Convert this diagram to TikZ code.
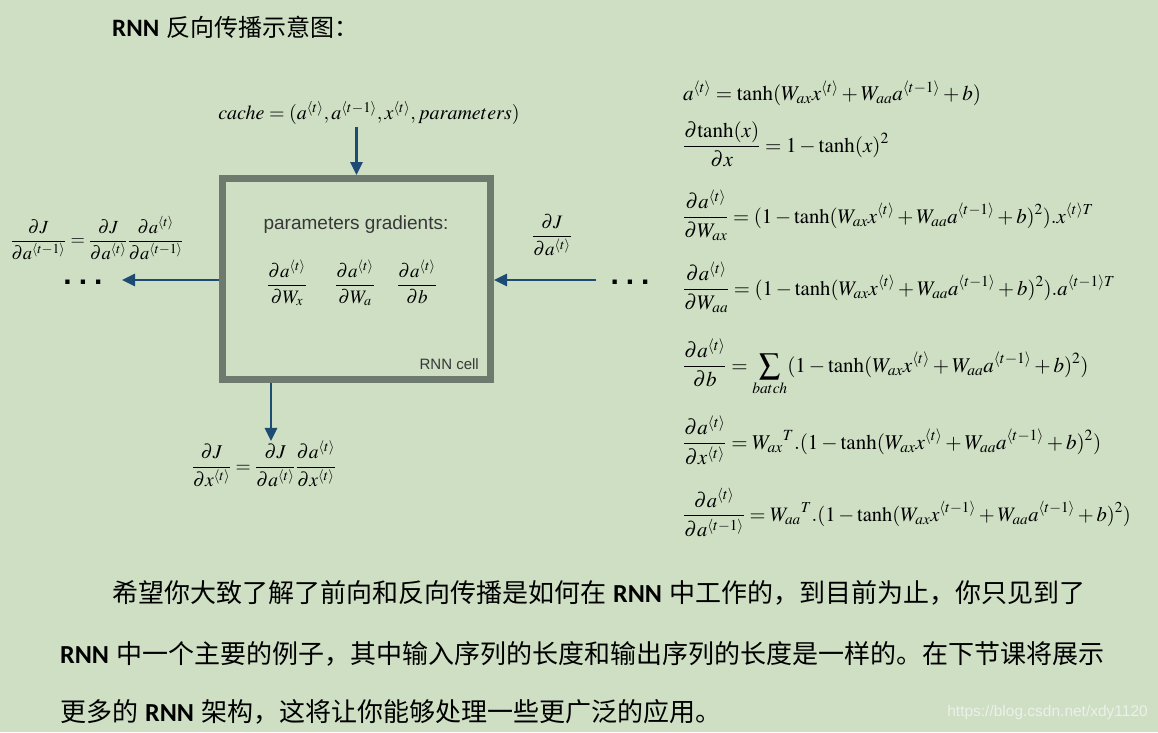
\documentclass[tikz,border=0pt]{standalone}
\usepackage{mathptmx}
\usepackage[no-math]{fontspec}
\setmainfont{Liberation Serif}
\newfontfamily\cjk{Noto Sans CJK SC}
\newfontfamily\carl{Carlito}
\newfontfamily\helv{Liberation Sans}
\usetikzlibrary{arrows.meta}
\definecolor{bg}{RGB}{206,223,196}
\definecolor{arrc}{RGB}{30,75,115}
\definecolor{boxc}{RGB}{110,122,110}
\definecolor{gtext}{RGB}{55,55,55}
\definecolor{wm}{RGB}{236,240,234}
\newcommand\tg[1]{^{\langle #1\rangle}}
\newcommand\fs[1]{\fontsize{#1}{#1}\selectfont}
\newcommand\tnh{\tanh(W_{ax}x\tg{t}+W_{aa}a\tg{t-1}+b)}
\newcommand\gap{\hspace{7pt}}
\XeTeXlinebreaklocale "zh"
\XeTeXlinebreakskip=0pt plus 2pt minus 0.5pt
\tikzset{
  arr/.style={draw=arrc, line width=2.6pt, -{Triangle[length=13pt,width=12pt]}},
  eq/.style={anchor=base west, inner sep=0pt},
  dots/.style={anchor=base, inner sep=0pt, font=\helv\bfseries\fs{30}},
}
\begin{document}
\begin{tikzpicture}[x=1pt,y=-1pt]
\fill[bg] (0,0) rectangle (1158,732);
\useasboundingbox (0,0) rectangle (1158,732);

% title
\node[anchor=base west, inner sep=0pt] (title) at (112,36) {{\carl\bfseries\fs{25}RNN}\hspace{7pt}{\cjk\fs{24}反向传播示意图：}};

% cache
\node[inner sep=0pt] (cache) at (369,113) {\fs{20}$cache=(a\tg{t},a\tg{t-1},x\tg{t},parameters)$};

% cell
\node[draw=boxc, line width=7pt, minimum width=268pt, minimum height=201pt, inner sep=0pt] (cell) at (356.5,279) {};
\node[text=gtext, inner sep=0pt] (pg) at (356,225) {\helv\fs{19}parameters gradients:};
\node[inner sep=0pt] (g1) at (287,283) {\fs{19}$\displaystyle\frac{\partial a\tg{t}}{\partial W_x}$};
\node[inner sep=0pt] (g2) at (355,283) {\fs{19}$\displaystyle\frac{\partial a\tg{t}}{\partial W_a}$};
\node[inner sep=0pt] (g3) at (417,282) {\fs{19}$\displaystyle\frac{\partial a\tg{t}}{\partial b}$};
\node[anchor=base east, text=gtext, inner sep=0pt] (cl) at (479,369) {\helv\fs{15}RNN cell};

% left
\node[inner sep=0pt] (lf) at (97,238) {\fs{18.5}$\displaystyle\frac{\partial J}{\partial a\tg{t-1}}=\frac{\partial J}{\partial a\tg{t}}\frac{\partial a\tg{t}}{\partial a\tg{t-1}}$};
\node[dots] (ld) at (83,284) {.\hspace{7pt}.\hspace{7pt}.};
\coordinate (lend) at (122,280);
\draw[arr] (cell.west |- lend) -- (lend);

% right
\node[inner sep=0pt] (rf) at (552,235) {\fs{19}$\displaystyle\frac{\partial J}{\partial a\tg{t}}$};
\node[dots] (rd) at (630,284) {.\hspace{7pt}.\hspace{7pt}.};
\coordinate (rstart) at (596,280);
\draw[arr] (rstart) -- (cell.east |- rstart);

% top arrow
\draw[arr] (cache.south -| cell.north) ++(0,2) -- (cell.north);

% bottom
\node[inner sep=0pt] (bf) at (264,464) {\fs{19.5}$\displaystyle\frac{\partial J}{\partial x\tg{t}}=\frac{\partial J}{\partial a\tg{t}}\frac{\partial a\tg{t}}{\partial x\tg{t}}$};
\draw[arr] ([xshift=-85.5pt]cell.south) -- ([xshift=-85.5pt]cell.south |- bf.north);

% right equations
\begin{scope}[every node/.style={eq}]
\node (e1) at (683,100) {\fs{21}$a\tg{t}=\tnh$};
\node (e2) at (683,152) {\fs{21}$\displaystyle\frac{\partial\mathrm{tanh}(x)}{\partial x}=1-\tanh(x)^2$};
\node (e3) at (683,223) {\fs{20.7}$\displaystyle\frac{\partial a\tg{t}}{\partial W_{ax}}=(1-\tnh^2).x^{\langle t\rangle T}$};
\node (e4) at (683,295) {\fs{20.7}$\displaystyle\frac{\partial a\tg{t}}{\partial W_{aa}}=(1-\tnh^2).a^{\langle t-1\rangle T}$};
\node (e5) at (683,372) {\fs{21}$\displaystyle\frac{\partial a\tg{t}}{\partial b}=\sum_{batch}(1-\tnh^2)$};
\node (e6) at (683,449) {\fs{21}$\displaystyle\frac{\partial a\tg{t}}{\partial x\tg{t}}=W_{ax}{}^{T}.(1-\tnh^2)$};
\node (e7) at (683,521) {\fs{20.5}$\displaystyle\frac{\partial a\tg{t}}{\partial a\tg{t-1}}=W_{aa}{}^{T}.(1-\tanh(W_{ax}x\tg{t-1}+W_{aa}a\tg{t-1}+b)^2)$};
\end{scope}

% paragraph
\begin{scope}[every node/.style={anchor=base west, inner sep=0pt}]
\node (p1) at (112,602) {\fs{26}\makebox[984pt][s]{\cjk 希望你大致了解了前向和反向传播是如何在\gap{\carl\bfseries RNN}\gap 中工作的，到目前为止，你只见到了}};
\node (p2) at (60,663) {\fs{26}\makebox[1036pt][s]{{\carl\bfseries RNN}\gap\cjk 中一个主要的例子，其中输入序列的长度和输出序列的长度是一样的。在下节课将展示}};
\node (p3) at (60,721) {\fs{26}\cjk 更多的\gap{\carl\bfseries RNN}\gap 架构，这将让你能够处理一些更广泛的应用。};
\end{scope}
\node[anchor=east, inner sep=0pt, text=wm] (wmk) at (1148,712) {\helv\fs{15.5}https://blog.csdn.net/xdy1120};
\end{tikzpicture}
\end{document}
